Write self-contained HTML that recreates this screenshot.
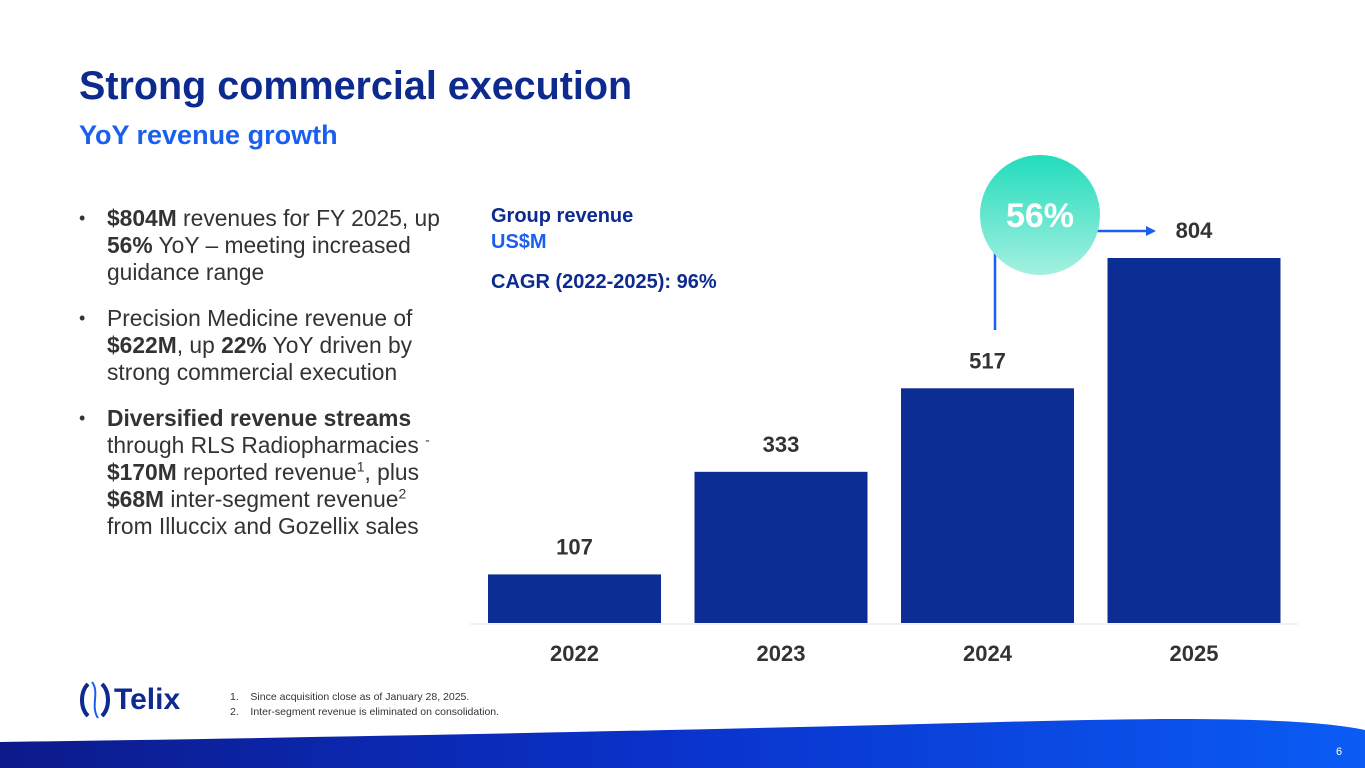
<!DOCTYPE html>
<html><head><meta charset="utf-8"><style>
body{margin:0;width:1365px;height:768px;overflow:hidden;background:#fff;font-family:"Liberation Sans",Arial,sans-serif;position:relative}
.abs{position:absolute}
h1{position:absolute;left:79px;top:64px;margin:0;font-size:39.5px;font-weight:bold;color:#0d2a8f}
h2{position:absolute;left:79px;top:120px;margin:0;font-size:27px;font-weight:bold;color:#1a5ff0}
ul{position:absolute;left:79px;top:205px;margin:0;padding:0;list-style:none;width:420px;font-size:22.8px;line-height:27px;color:#333;white-space:nowrap}
li{position:relative;padding-left:28px;margin-bottom:19px}
li:before{content:"•";position:absolute;left:0;font-size:18px}
sup{font-size:14px;line-height:0}
.fn{left:230px;font-size:10.5px;color:#333}
</style></head><body>
<h1>Strong commercial execution</h1>
<h2>YoY revenue growth</h2>
<ul>
<li><b>$804M</b> revenues for FY 2025, up<br><b>56%</b> YoY – meeting increased<br>guidance range</li>
<li>Precision Medicine revenue of<br><b>$622M</b>, up <b>22%</b> YoY driven by<br>strong commercial execution</li>
<li><b>Diversified revenue streams</b><br>through RLS Radiopharmacies <sup>-</sup><br><b>$170M</b> reported revenue<sup>1</sup>, plus<br><b>$68M</b> inter-segment revenue<sup>2</sup><br>from Illuccix and Gozellix sales</li>
</ul>
<div class="abs" style="left:491px;top:203px;font-size:20px;line-height:26px;font-weight:bold;color:#0d2a8f">Group revenue<br><span style="color:#1a5ff0">US$M</span></div>
<div class="abs" style="left:491px;top:271px;font-size:20px;font-weight:bold;color:#0d2a8f">CAGR (2022-2025): 96%</div>
<svg id="chart" class="abs" style="left:0;top:0" width="1365" height="768">
<defs><linearGradient id="cg" x1="0" y1="0" x2="0" y2="1"><stop offset="0" stop-color="#22dcbc"/><stop offset="1" stop-color="#a4f0e0"/></linearGradient>
<linearGradient id="bg" x1="0" y1="0" x2="1" y2="0"><stop offset="0" stop-color="#0c1a8a"/><stop offset="0.5" stop-color="#0a33cc"/><stop offset="1" stop-color="#0a5cf5"/></linearGradient></defs>
<line x1="470" y1="624" x2="1298" y2="624" stroke="#e4e4e4"/>
<g id="bars"></g>
<line x1="995" y1="330" x2="995" y2="240" stroke="#1a5ff0" stroke-width="2.5"/>
<line x1="1085" y1="231" x2="1148" y2="231" stroke="#1a5ff0" stroke-width="2.5"/>
<polygon points="1156,231 1146,226 1146,236" fill="#1a5ff0"/>
<circle cx="1040" cy="215" r="60" fill="url(#cg)"/>
<text x="1040" y="227" text-anchor="middle" font-size="34" font-weight="bold" fill="#fff" font-family="Liberation Sans,Arial,sans-serif">56%</text>
<path d="M0,742 C300,738 700,730 1000,722 C1150,718 1300,716 1365,730 L1365,768 L0,768 Z" fill="url(#bg)"/>
<text x="1336" y="755" font-size="11" fill="#fff" font-family="Liberation Sans,Arial,sans-serif">6</text>
</svg>
<div class="abs" style="left:78px;top:682px;height:36px;display:flex;align-items:center">
<svg width="34" height="40" viewBox="0 0 34 40"><path d="M10,4 C2,12 2,28 10,36" stroke="#0d2a8f" stroke-width="4" fill="none"/><path d="M24,4 C32,12 32,28 24,36" stroke="#0d2a8f" stroke-width="4" fill="none"/><path d="M14,2 C22,12 12,26 20,38" stroke="#1a5ff0" stroke-width="2" fill="none"/></svg>
<span style="font-size:30px;font-weight:bold;color:#0d2a8f;margin-left:2px">Telix</span></div>
<div class="abs fn" style="top:691px">1.&nbsp;&nbsp;&nbsp;&nbsp;Since acquisition close as of January 28, 2025.</div>
<div class="abs fn" style="top:706px">2.&nbsp;&nbsp;&nbsp;&nbsp;Inter-segment revenue is eliminated on consolidation.</div>
<script>
const categories=["2022","2023","2024","2025"];
const revenue=[107,333,517,804];
const valueLabels=["107","333","517","804"];
const NS="http://www.w3.org/2000/svg";
const base=623, pxPerUnit=365/804, x0=488, step=206.5, bw=173;
const yScale=v=>base-v*pxPerUnit;
const xScale=i=>x0+i*step;
const g=document.getElementById("bars");
categories.forEach((c,i)=>{
  const r=document.createElementNS(NS,"rect");
  r.setAttribute("x",xScale(i));r.setAttribute("y",yScale(revenue[i]));
  r.setAttribute("width",bw);r.setAttribute("height",base-yScale(revenue[i]));
  r.setAttribute("fill","#0c2d93");
  
  
  g.appendChild(r);
  const t=document.createElementNS(NS,"text");
  t.setAttribute("x",xScale(i)+bw/2);t.setAttribute("y",yScale(revenue[i])-20);
  t.setAttribute("text-anchor","middle");t.setAttribute("font-size","22");t.setAttribute("font-weight","bold");
  t.setAttribute("fill","#333");t.setAttribute("font-family","Liberation Sans,Arial,sans-serif");
  t.textContent=valueLabels[i];
  
  
  g.appendChild(t);
  const a=document.createElementNS(NS,"text");
  a.setAttribute("x",xScale(i)+bw/2);a.setAttribute("y",661);
  a.setAttribute("text-anchor","middle");a.setAttribute("font-size","22");a.setAttribute("font-weight","bold");
  a.setAttribute("fill","#333");a.setAttribute("font-family","Liberation Sans,Arial,sans-serif");
  a.textContent=c;
  
  
  g.appendChild(a);
});
</script>
</body></html>
